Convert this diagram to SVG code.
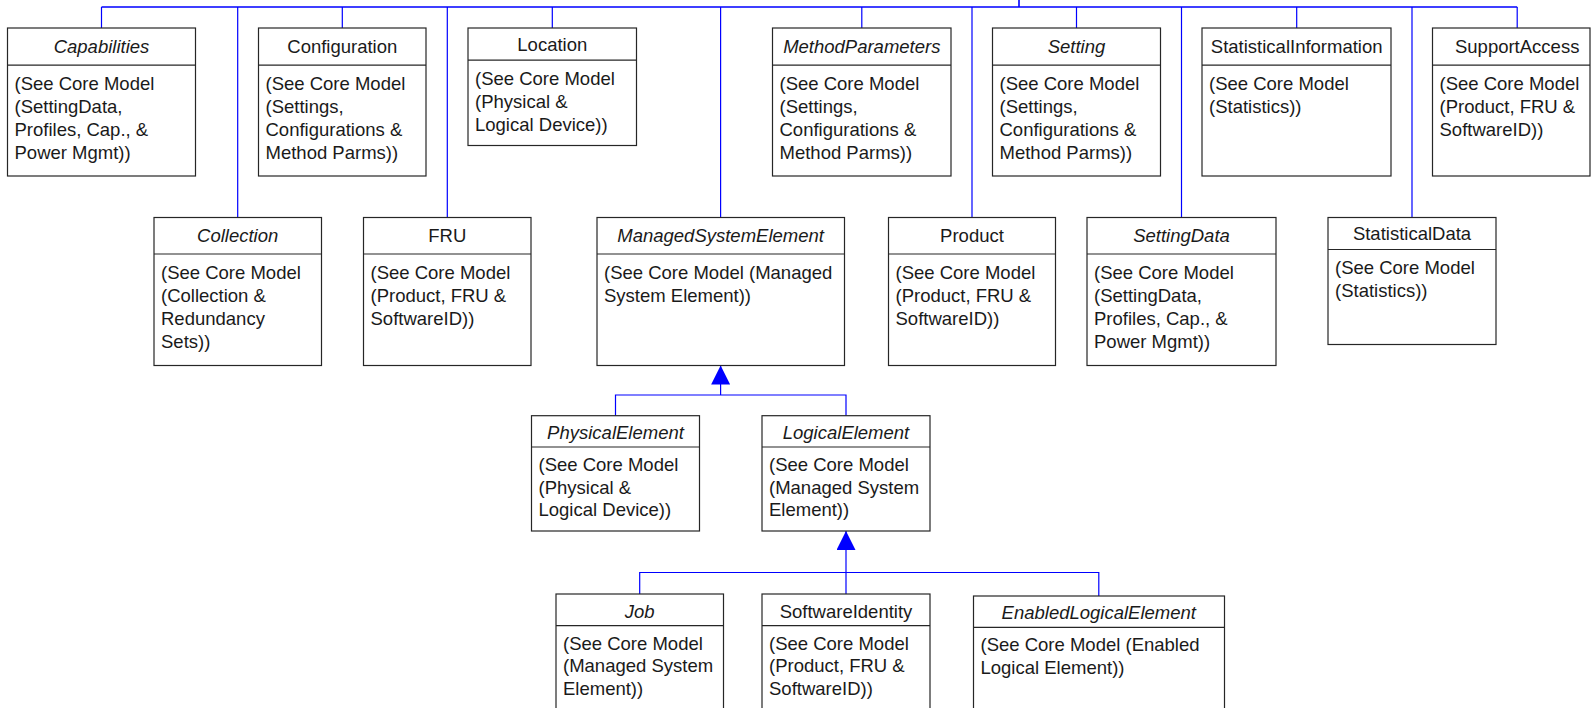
<svg xmlns="http://www.w3.org/2000/svg" width="1591" height="708" viewBox="0 0 1591 708">
<style>
.box{fill:#fff;stroke:#262626;stroke-width:1.2}
.sep{stroke:#262626;stroke-width:1.2}
.t{font-family:"Liberation Sans",Arial,sans-serif;font-size:18.5px;fill:#1a1a1a}
.ti{text-anchor:middle}
.it{font-style:italic}
.con{fill:none;stroke:#0000ff;stroke-width:1.2}
.main{stroke-width:1.6}
</style>
<defs>
<marker id="tri" markerUnits="userSpaceOnUse" markerWidth="19" markerHeight="19" viewBox="0 0 19 19" refX="19" refY="9.5" orient="auto">
<path d="M0,0 L19,9.5 L0,19 Z" fill="#0000ff"/>
</marker>
</defs>
<rect width="1591" height="708" fill="#fff"/>

<g id="connectors">
<path class="con main" d="M101.5,7 H1517.2 M1019,0 V7"/>
<path class="con" d="M101.5,7 V28 M342.3,7 V28 M552.3,7 V28 M861.8,7 V28 M1076.5,7 V28 M1296.7,7 V28 M1517.2,7 V28"/>
<path class="con" d="M237.7,7 V217.5 M447.3,7 V217.5 M720.6,7 V217.5 M972,7 V217.5 M1181.5,7 V217.5 M1412,7 V217.5"/>
<path class="con" d="M720.6,395 V365.5" marker-end="url(#tri)"/>
<path class="con" d="M615.5,415.7 V395 H846 V415.7"/>
<path class="con" d="M846,572.5 V531" marker-end="url(#tri)"/>
<path class="con" d="M639.7,594 V572.5 H1098.8 V596 M846,572.5 V594"/>
</g>

<g id="Capabilities">
<rect class="box" x="7.5" y="28" width="188" height="148"/>
<line class="sep" x1="7.5" y1="65.2" x2="195.5" y2="65.2"/>
<text class="t ti it" x="101.5" y="53">Capabilities</text>
<text class="t" x="14.5" y="89.5"><tspan x="14.5">(See Core Model</tspan><tspan x="14.5" dy="23">(SettingData,</tspan><tspan x="14.5" dy="23">Profiles, Cap., &amp;</tspan><tspan x="14.5" dy="23">Power Mgmt))</tspan></text>
</g>

<g id="Configuration">
<rect class="box" x="258.5" y="28" width="167.5" height="148"/>
<line class="sep" x1="258.5" y1="65.2" x2="426" y2="65.2"/>
<text class="t ti" x="342.3" y="53">Configuration</text>
<text class="t" x="265.5" y="89.5"><tspan x="265.5">(See Core Model</tspan><tspan x="265.5" dy="23">(Settings,</tspan><tspan x="265.5" dy="23">Configurations &amp;</tspan><tspan x="265.5" dy="23">Method Parms))</tspan></text>
</g>

<g id="Location">
<rect class="box" x="468" y="28" width="168.5" height="117.5"/>
<line class="sep" x1="468" y1="60.2" x2="636.5" y2="60.2"/>
<text class="t ti" x="552.3" y="50.5">Location</text>
<text class="t" x="475" y="84.5"><tspan x="475">(See Core Model</tspan><tspan x="475" dy="23">(Physical &amp;</tspan><tspan x="475" dy="23">Logical Device))</tspan></text>
</g>

<g id="MethodParameters">
<rect class="box" x="772.5" y="28" width="178.5" height="148"/>
<line class="sep" x1="772.5" y1="65.2" x2="951" y2="65.2"/>
<text class="t ti it" x="861.8" y="53">MethodParameters</text>
<text class="t" x="779.5" y="89.5"><tspan x="779.5">(See Core Model</tspan><tspan x="779.5" dy="23">(Settings,</tspan><tspan x="779.5" dy="23">Configurations &amp;</tspan><tspan x="779.5" dy="23">Method Parms))</tspan></text>
</g>

<g id="Setting">
<rect class="box" x="992.5" y="28" width="168" height="148"/>
<line class="sep" x1="992.5" y1="65.2" x2="1160.5" y2="65.2"/>
<text class="t ti it" x="1076.5" y="53">Setting</text>
<text class="t" x="999.5" y="89.5"><tspan x="999.5">(See Core Model</tspan><tspan x="999.5" dy="23">(Settings,</tspan><tspan x="999.5" dy="23">Configurations &amp;</tspan><tspan x="999.5" dy="23">Method Parms))</tspan></text>
</g>

<g id="StatisticalInformation">
<rect class="box" x="1202" y="28" width="189" height="148"/>
<line class="sep" x1="1202" y1="65.2" x2="1391" y2="65.2"/>
<text class="t ti" x="1296.7" y="53">StatisticalInformation</text>
<text class="t" x="1209" y="89.5"><tspan x="1209">(See Core Model</tspan><tspan x="1209" dy="23">(Statistics))</tspan></text>
</g>

<g id="SupportAccess">
<rect class="box" x="1432.5" y="28" width="157.5" height="148"/>
<line class="sep" x1="1432.5" y1="65.2" x2="1590" y2="65.2"/>
<text class="t ti" x="1517.2" y="53">SupportAccess</text>
<text class="t" x="1439.5" y="89.5"><tspan x="1439.5">(See Core Model</tspan><tspan x="1439.5" dy="23">(Product, FRU &amp;</tspan><tspan x="1439.5" dy="23">SoftwareID))</tspan></text>
</g>

<g id="Collection">
<rect class="box" x="154" y="217.5" width="167.5" height="148"/>
<line class="sep" x1="154" y1="254" x2="321.5" y2="254"/>
<text class="t ti it" x="237.7" y="242">Collection</text>
<text class="t" x="161" y="278.5"><tspan x="161">(See Core Model</tspan><tspan x="161" dy="23">(Collection &amp;</tspan><tspan x="161" dy="23">Redundancy</tspan><tspan x="161" dy="23">Sets))</tspan></text>
</g>

<g id="FRU">
<rect class="box" x="363.5" y="217.5" width="167.5" height="148"/>
<line class="sep" x1="363.5" y1="254" x2="531" y2="254"/>
<text class="t ti" x="447.3" y="242">FRU</text>
<text class="t" x="370.5" y="278.5"><tspan x="370.5">(See Core Model</tspan><tspan x="370.5" dy="23">(Product, FRU &amp;</tspan><tspan x="370.5" dy="23">SoftwareID))</tspan></text>
</g>

<g id="ManagedSystemElement">
<rect class="box" x="597" y="217.5" width="247.5" height="148"/>
<line class="sep" x1="597" y1="254" x2="844.5" y2="254"/>
<text class="t ti it" x="720.6" y="242">ManagedSystemElement</text>
<text class="t" x="604" y="278.5"><tspan x="604">(See Core Model (Managed</tspan><tspan x="604" dy="23">System Element))</tspan></text>
</g>

<g id="Product">
<rect class="box" x="888.5" y="217.5" width="167" height="148"/>
<line class="sep" x1="888.5" y1="254" x2="1055.5" y2="254"/>
<text class="t ti" x="972" y="242">Product</text>
<text class="t" x="895.5" y="278.5"><tspan x="895.5">(See Core Model</tspan><tspan x="895.5" dy="23">(Product, FRU &amp;</tspan><tspan x="895.5" dy="23">SoftwareID))</tspan></text>
</g>

<g id="SettingData">
<rect class="box" x="1087" y="217.5" width="189" height="148"/>
<line class="sep" x1="1087" y1="254" x2="1276" y2="254"/>
<text class="t ti it" x="1181.5" y="242">SettingData</text>
<text class="t" x="1094" y="278.5"><tspan x="1094">(See Core Model</tspan><tspan x="1094" dy="23">(SettingData,</tspan><tspan x="1094" dy="23">Profiles, Cap., &amp;</tspan><tspan x="1094" dy="23">Power Mgmt))</tspan></text>
</g>

<g id="StatisticalData">
<rect class="box" x="1328" y="217.5" width="168" height="127"/>
<line class="sep" x1="1328" y1="249.5" x2="1496" y2="249.5"/>
<text class="t ti" x="1412" y="240">StatisticalData</text>
<text class="t" x="1335" y="273.5"><tspan x="1335">(See Core Model</tspan><tspan x="1335" dy="23">(Statistics))</tspan></text>
</g>

<g id="PhysicalElement">
<rect class="box" x="531.5" y="415.7" width="168" height="115.3"/>
<line class="sep" x1="531.5" y1="447" x2="699.5" y2="447"/>
<text class="t ti it" x="615.5" y="439">PhysicalElement</text>
<text class="t" x="538.5" y="471"><tspan x="538.5">(See Core Model</tspan><tspan x="538.5" dy="22.6">(Physical &amp;</tspan><tspan x="538.5" dy="22.6">Logical Device))</tspan></text>
</g>

<g id="LogicalElement">
<rect class="box" x="762" y="415.7" width="168" height="115.3"/>
<line class="sep" x1="762" y1="447" x2="930" y2="447"/>
<text class="t ti it" x="846" y="439">LogicalElement</text>
<text class="t" x="769" y="471"><tspan x="769">(See Core Model</tspan><tspan x="769" dy="22.6">(Managed System</tspan><tspan x="769" dy="22.6">Element))</tspan></text>
</g>

<g id="Job">
<rect class="box" x="556" y="594" width="167.5" height="130"/>
<line class="sep" x1="556" y1="625.7" x2="723.5" y2="625.7"/>
<text class="t ti it" x="639.7" y="617.5">Job</text>
<text class="t" x="563" y="649.5"><tspan x="563">(See Core Model</tspan><tspan x="563" dy="22.6">(Managed System</tspan><tspan x="563" dy="22.6">Element))</tspan></text>
</g>

<g id="SoftwareIdentity">
<rect class="box" x="762" y="594" width="168" height="130"/>
<line class="sep" x1="762" y1="625.7" x2="930" y2="625.7"/>
<text class="t ti" x="846" y="617.5">SoftwareIdentity</text>
<text class="t" x="769" y="649.5"><tspan x="769">(See Core Model</tspan><tspan x="769" dy="22.6">(Product, FRU &amp;</tspan><tspan x="769" dy="22.6">SoftwareID))</tspan></text>
</g>

<g id="EnabledLogicalElement">
<rect class="box" x="973.5" y="596" width="251" height="130"/>
<line class="sep" x1="973.5" y1="627.3" x2="1224.5" y2="627.3"/>
<text class="t ti it" x="1098.8" y="619">EnabledLogicalElement</text>
<text class="t" x="980.5" y="651"><tspan x="980.5">(See Core Model (Enabled</tspan><tspan x="980.5" dy="22.6">Logical Element))</tspan></text>
</g>
</svg>
